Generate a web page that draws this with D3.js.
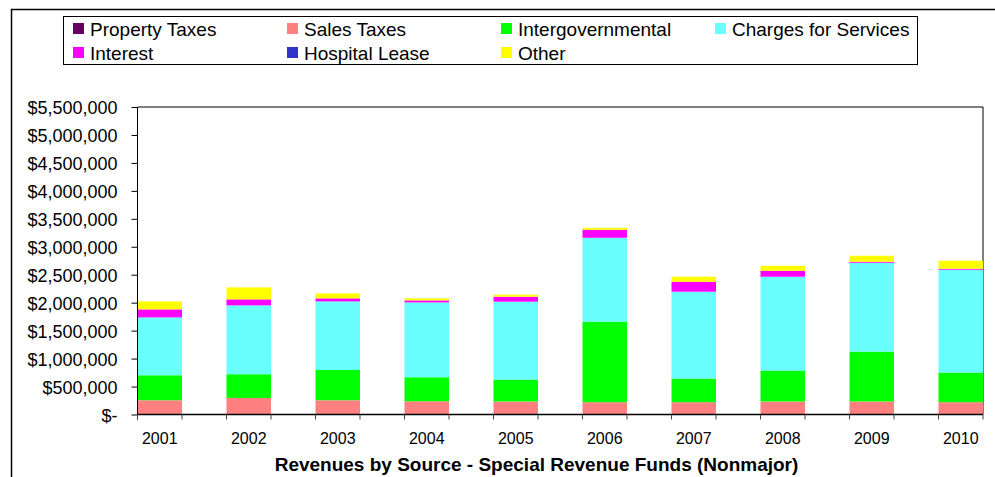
<!DOCTYPE html>
<html>
<head>
<meta charset="utf-8">
<script src="https://cdn.jsdelivr.net/npm/d3@7"></script>
<style>
  body { margin: 0; background: #fff; }
  svg { display: block; font-family: "Liberation Sans", Arial, sans-serif; }
</style>
</head>
<body>
<svg id="chart"></svg>
<script>
// data (dollars)
const years = ["2001", "2002", "2003", "2004", "2005", "2006", "2007", "2008", "2009", "2010"];
const seriesNames = ["Property Taxes", "Sales Taxes", "Intergovernmental", "Charges for Services", "Interest", "Hospital Lease", "Other"];
const seriesColors = ["#660066", "#ff8080", "#00ff00", "#6affff", "#ff00ff", "#3333cc", "#ffff00"];

const propertyTaxes = [0, 0, 0, 0, 0, 0, 0, 0, 0, 0];
const salesTaxes = [255000, 296000, 255000, 237000, 232000, 220000, 220000, 232000, 232000, 220000];
const intergovernmental = [447000, 424000, 541000, 429000, 393000, 1441000, 423000, 554000, 893000, 530000];
const chargesForServices = [1035000, 1232000, 1227000, 1339000, 1393000, 1500000, 1553000, 1678000, 1589000, 1839000];
const interest = [143000, 107000, 54000, 36000, 89000, 143000, 179000, 107000, 18000, 18000];
const hospitalLease = [0, 0, 0, 0, 0, 0, 0, 0, 0, 0];
const other = [143000, 214000, 89000, 36000, 36000, 35000, 89000, 90000, 107000, 143000];

const yTicks = [0, 500000, 1000000, 1500000, 2000000, 2500000, 3000000, 3500000, 4000000, 4500000, 5000000, 5500000];
const chartTitle = "Revenues by Source - Special Revenue Funds (Nonmajor)";

const allSeries = [propertyTaxes, salesTaxes, intergovernmental, chargesForServices, interest, hospitalLease, other];
const table = years.map((yr, i) => {
    const row = { year: yr };
    seriesNames.forEach((s, j) => row[s] = allSeries[j][i]);
    return row;
});

const svg = d3.select("#chart")
              .attr("width", 995)
              .attr("height", 477);

// outer chart frame (top and left edges visible)
svg.append("path")
   .attr("d", "M995,9.5 L11.5,9.5 L11.5,477")
   .attr("fill", "none")
   .attr("stroke", "#000")
   .attr("stroke-width", 1.5);

const x = d3.scaleBand().domain(years).range([137.5, 983]).paddingInner(0.5).paddingOuter(0);
const y = d3.scaleLinear().domain([0, 5500000]).range([414.5, 107]);

// plot frame top/right
svg.append("path")
   .attr("d", `M137.5,${y(5500000)} L983,${y(5500000)} L983,${y(0)}`)
   .attr("fill", "none")
   .attr("stroke", "#000")
   .attr("stroke-width", 1);

const stack = d3.stack().keys(seriesNames);
const layers = stack(table);

svg.append("g")
   .selectAll("g")
   .data(layers)
   .enter().append("g")
   .attr("fill", (d, i) => seriesColors[i])
   .selectAll("rect")
   .data(d => d)
   .enter().append("rect")
   .attr("x", d => x(d.data.year))
   .attr("width", x.bandwidth())
   .attr("y", d => y(d[1]))
   .attr("height", d => y(d[0]) - y(d[1]));

// y axis
const yAxis = svg.append("g")
   .attr("transform", "translate(137.5,0)")
   .call(d3.axisLeft(y).tickValues(yTicks).tickSize(6).tickPadding(14)
       .tickFormat(d => d === 0 ? "$-" : d3.format("$,")(d)));
yAxis.select(".domain").attr("d", `M0,${y(5500000)}V${y(0) + 5}`).attr("stroke", "#000");
yAxis.selectAll("text").attr("font-size", "18px").attr("fill", "#000").attr("font-family", "Liberation Sans, Arial, sans-serif").attr("dy", "0.38em");

// x axis line
svg.append("line")
   .attr("x1", 137.5).attr("x2", 983)
   .attr("y1", y(0)).attr("y2", y(0))
   .attr("stroke", "#000").attr("stroke-width", 1.5);

// ticks at both edges of each bar
const edges = [];
years.forEach(yr => { edges.push(x(yr)); edges.push(x(yr) + x.bandwidth()); });
svg.append("g")
   .selectAll("line")
   .data(edges)
   .enter().append("line")
   .attr("x1", d => d).attr("x2", d => d)
   .attr("y1", y(0)).attr("y2", y(0) + 5)
   .attr("stroke", "#444");

svg.append("g")
   .selectAll("text")
   .data(years)
   .enter().append("text")
   .attr("x", d => x(d) + x.bandwidth() / 2)
   .attr("y", 444)
   .attr("text-anchor", "middle")
   .attr("font-size", "16px")
   .text(d => d);

svg.append("text")
   .attr("x", 536.5)
   .attr("y", 471)
   .attr("text-anchor", "middle")
   .attr("font-size", "19px")
   .attr("font-weight", "bold")
   .text(chartTitle);

// legend
svg.append("rect")
   .attr("x", 63.5).attr("y", 16.5)
   .attr("width", 854).attr("height", 48)
   .attr("fill", "#fff")
   .attr("stroke", "#000");

const legendCols = [73, 287, 501, 715];
const legendRows = [29, 53];
const legend = svg.append("g")
   .selectAll("g")
   .data(seriesNames)
   .enter().append("g")
   .attr("transform", (d, i) => `translate(${legendCols[i % 4]},${legendRows[Math.floor(i / 4)]})`);

legend.append("rect")
   .attr("x", 0).attr("y", -6)
   .attr("width", 11).attr("height", 11)
   .attr("fill", (d, i) => seriesColors[i]);

legend.append("text")
   .attr("x", 17)
   .attr("y", 0)
   .attr("dy", "0.35em")
   .attr("font-size", "19px")
   .text(d => d);
</script>
</body>
</html>
